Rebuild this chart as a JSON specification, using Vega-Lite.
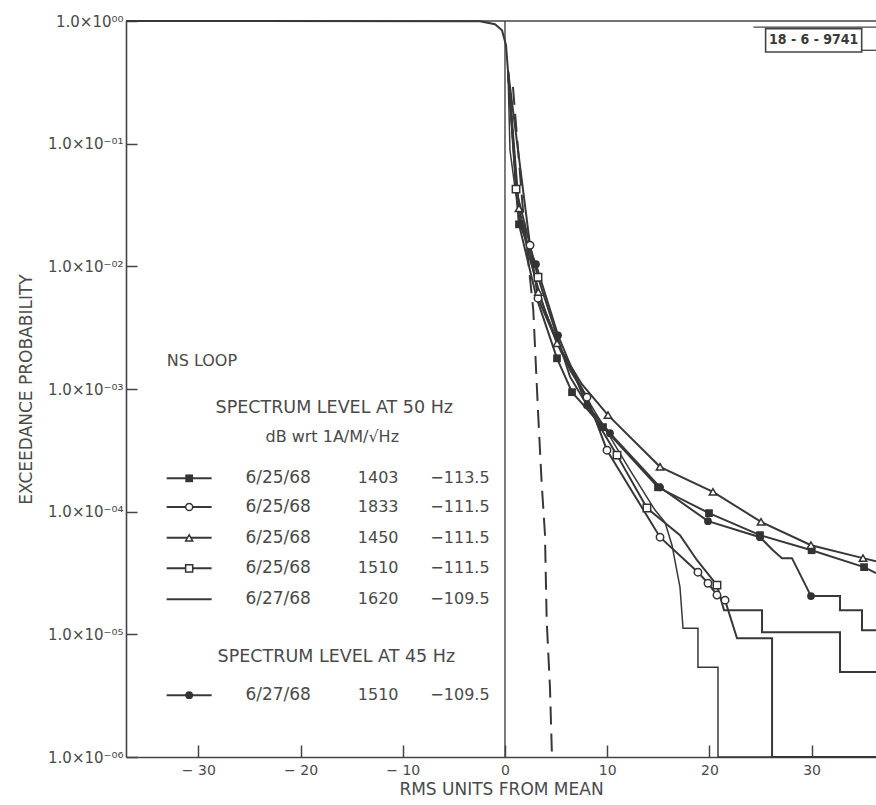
{
  "$schema": "https://vega.github.io/schema/vega-lite/v6.json",
  "width": 750,
  "height": 736,
  "autosize": {"type": "none"},
  "padding": {"left": 126, "top": 21, "right": 0, "bottom": 48},
  "background": "white",
  "config": {
    "view": {"stroke": null},
    "font": "DejaVu Sans",
    "text": {"font": "DejaVu Sans", "color": "#4a4a4a"}
  },
  "datasets": {
    "curves": [
      {"s": "6/25/68 1403", "x": 0.29, "p": 0.396, "o": 0, "mk": false},
      {"s": "6/25/68 1403", "x": 1.37, "p": 0.022, "o": 1, "mk": true},
      {"s": "6/25/68 1403", "x": 3.1, "p": 0.0055, "o": 2, "mk": false},
      {"s": "6/25/68 1403", "x": 5.09, "p": 0.00178, "o": 3, "mk": true},
      {"s": "6/25/68 1403", "x": 6.56, "p": 0.000942, "o": 4, "mk": true},
      {"s": "6/25/68 1403", "x": 9.59, "p": 0.000489, "o": 5, "mk": true},
      {"s": "6/25/68 1403", "x": 14.97, "p": 0.000158, "o": 6, "mk": true},
      {"s": "6/25/68 1403", "x": 19.96, "p": 0.0000973, "o": 7, "mk": true},
      {"s": "6/25/68 1403", "x": 24.95, "p": 0.0000644, "o": 8, "mk": true},
      {"s": "6/25/68 1403", "x": 30.0, "p": 0.0000485, "o": 9, "mk": true},
      {"s": "6/25/68 1403", "x": 35.13, "p": 0.0000353, "o": 10, "mk": true},
      {"s": "6/25/68 1403", "x": 36.3, "p": 0.0000316, "o": 11, "mk": false},

      {"s": "6/25/68 1833", "x": 0.29, "p": 0.396, "o": 0, "mk": false},
      {"s": "6/25/68 1833", "x": 2.45, "p": 0.01486, "o": 1, "mk": true},
      {"s": "6/25/68 1833", "x": 3.23, "p": 0.0055, "o": 2, "mk": true},
      {"s": "6/25/68 1833", "x": 5.5, "p": 0.002, "o": 3, "mk": false},
      {"s": "6/25/68 1833", "x": 8.02, "p": 0.000857, "o": 4, "mk": true},
      {"s": "6/25/68 1833", "x": 9.98, "p": 0.000317, "o": 5, "mk": true},
      {"s": "6/25/68 1833", "x": 15.17, "p": 0.0000619, "o": 6, "mk": true},
      {"s": "6/25/68 1833", "x": 18.88, "p": 0.0000321, "o": 7, "mk": true},
      {"s": "6/25/68 1833", "x": 19.86, "p": 0.0000261, "o": 8, "mk": true},
      {"s": "6/25/68 1833", "x": 20.74, "p": 0.0000209, "o": 9, "mk": true},
      {"s": "6/25/68 1833", "x": 21.53, "p": 0.000019, "o": 10, "mk": true},
      {"s": "6/25/68 1833", "x": 22.7, "p": 0.00000929, "o": 11, "mk": false},
      {"s": "6/25/68 1833", "x": 26.13, "p": 0.00000929, "o": 12, "mk": false},
      {"s": "6/25/68 1833", "x": 26.13, "p": 0.000001, "o": 13, "mk": false},
      {"s": "6/25/68 1833", "x": 36.3, "p": 0.000001, "o": 14, "mk": false},

      {"s": "6/25/68 1450", "x": 0.29, "p": 0.396, "o": 0, "mk": false},
      {"s": "6/25/68 1450", "x": 1.37, "p": 0.0297, "o": 1, "mk": true},
      {"s": "6/25/68 1450", "x": 3.26, "p": 0.00618, "o": 2, "mk": true},
      {"s": "6/25/68 1450", "x": 5.09, "p": 0.00236, "o": 3, "mk": true},
      {"s": "6/25/68 1450", "x": 7.5, "p": 0.0011, "o": 4, "mk": false},
      {"s": "6/25/68 1450", "x": 10.08, "p": 0.000612, "o": 5, "mk": true},
      {"s": "6/25/68 1450", "x": 15.17, "p": 0.000232, "o": 6, "mk": true},
      {"s": "6/25/68 1450", "x": 20.35, "p": 0.000145, "o": 7, "mk": true},
      {"s": "6/25/68 1450", "x": 25.05, "p": 0.0000826, "o": 8, "mk": true},
      {"s": "6/25/68 1450", "x": 29.94, "p": 0.0000533, "o": 9, "mk": true},
      {"s": "6/25/68 1450", "x": 35.03, "p": 0.0000418, "o": 10, "mk": true},
      {"s": "6/25/68 1450", "x": 36.3, "p": 0.0000394, "o": 11, "mk": false},

      {"s": "6/25/68 1510", "x": 0.29, "p": 0.396, "o": 0, "mk": false},
      {"s": "6/25/68 1510", "x": 1.08, "p": 0.0426, "o": 1, "mk": true},
      {"s": "6/25/68 1510", "x": 3.23, "p": 0.00815, "o": 2, "mk": true},
      {"s": "6/25/68 1510", "x": 6.36, "p": 0.00126, "o": 3, "mk": false},
      {"s": "6/25/68 1510", "x": 10.96, "p": 0.000289, "o": 4, "mk": true},
      {"s": "6/25/68 1510", "x": 13.89, "p": 0.000107, "o": 5, "mk": true},
      {"s": "6/25/68 1510", "x": 17.12, "p": 0.0000644, "o": 6, "mk": false},
      {"s": "6/25/68 1510", "x": 18.79, "p": 0.0000402, "o": 7, "mk": false},
      {"s": "6/25/68 1510", "x": 20.74, "p": 0.0000252, "o": 8, "mk": true},
      {"s": "6/25/68 1510", "x": 21.43, "p": 0.0000157, "o": 9, "mk": false},
      {"s": "6/25/68 1510", "x": 25.15, "p": 0.0000157, "o": 10, "mk": false},
      {"s": "6/25/68 1510", "x": 25.15, "p": 0.0000104, "o": 11, "mk": false},
      {"s": "6/25/68 1510", "x": 32.78, "p": 0.0000104, "o": 12, "mk": false},
      {"s": "6/25/68 1510", "x": 32.78, "p": 0.00000492, "o": 13, "mk": false},
      {"s": "6/25/68 1510", "x": 36.3, "p": 0.00000492, "o": 14, "mk": false},

      {"s": "6/27/68 1620", "x": 0.29, "p": 0.396, "o": 0, "mk": false},
      {"s": "6/27/68 1620", "x": 0.49, "p": 0.0883, "o": 1, "mk": false},
      {"s": "6/27/68 1620", "x": 1.27, "p": 0.0286, "o": 2, "mk": false},
      {"s": "6/27/68 1620", "x": 2.45, "p": 0.0112, "o": 3, "mk": false},
      {"s": "6/27/68 1620", "x": 3.91, "p": 0.00439, "o": 4, "mk": false},
      {"s": "6/27/68 1620", "x": 6.36, "p": 0.00142, "o": 5, "mk": false},
      {"s": "6/27/68 1620", "x": 9.3, "p": 0.000557, "o": 6, "mk": false},
      {"s": "6/27/68 1620", "x": 12.23, "p": 0.000218, "o": 7, "mk": false},
      {"s": "6/27/68 1620", "x": 14.68, "p": 0.000103, "o": 8, "mk": false},
      {"s": "6/27/68 1620", "x": 15.66, "p": 0.000082, "o": 9, "mk": false},
      {"s": "6/27/68 1620", "x": 16.34, "p": 0.0000533, "o": 10, "mk": false},
      {"s": "6/27/68 1620", "x": 17.12, "p": 0.0000243, "o": 11, "mk": false},
      {"s": "6/27/68 1620", "x": 17.42, "p": 0.0000112, "o": 12, "mk": false},
      {"s": "6/27/68 1620", "x": 18.88, "p": 0.0000112, "o": 13, "mk": false},
      {"s": "6/27/68 1620", "x": 18.88, "p": 0.0000054, "o": 14, "mk": false},
      {"s": "6/27/68 1620", "x": 20.84, "p": 0.0000054, "o": 15, "mk": false},
      {"s": "6/27/68 1620", "x": 20.84, "p": 0.000001, "o": 16, "mk": false},
      {"s": "6/27/68 1620", "x": 36.3, "p": 0.000001, "o": 17, "mk": false},

      {"s": "6/27/68 1510 (45 Hz)", "x": 0.29, "p": 0.396, "o": 0, "mk": false},
      {"s": "6/27/68 1510 (45 Hz)", "x": 1.37, "p": 0.0229, "o": 1, "mk": false},
      {"s": "6/27/68 1510 (45 Hz)", "x": 3.03, "p": 0.0104, "o": 2, "mk": true},
      {"s": "6/27/68 1510 (45 Hz)", "x": 5.19, "p": 0.00274, "o": 3, "mk": true},
      {"s": "6/27/68 1510 (45 Hz)", "x": 8.02, "p": 0.000738, "o": 4, "mk": true},
      {"s": "6/27/68 1510 (45 Hz)", "x": 10.27, "p": 0.000436, "o": 5, "mk": true},
      {"s": "6/27/68 1510 (45 Hz)", "x": 15.17, "p": 0.000158, "o": 6, "mk": true},
      {"s": "6/27/68 1510 (45 Hz)", "x": 19.86, "p": 0.0000837, "o": 7, "mk": true},
      {"s": "6/27/68 1510 (45 Hz)", "x": 24.95, "p": 0.0000619, "o": 8, "mk": true},
      {"s": "6/27/68 1510 (45 Hz)", "x": 26.22, "p": 0.0000485, "o": 9, "mk": false},
      {"s": "6/27/68 1510 (45 Hz)", "x": 27.1, "p": 0.0000418, "o": 10, "mk": false},
      {"s": "6/27/68 1510 (45 Hz)", "x": 28.08, "p": 0.0000418, "o": 11, "mk": false},
      {"s": "6/27/68 1510 (45 Hz)", "x": 29.94, "p": 0.0000205, "o": 12, "mk": true},
      {"s": "6/27/68 1510 (45 Hz)", "x": 32.78, "p": 0.0000205, "o": 13, "mk": false},
      {"s": "6/27/68 1510 (45 Hz)", "x": 32.78, "p": 0.0000157, "o": 14, "mk": false},
      {"s": "6/27/68 1510 (45 Hz)", "x": 34.93, "p": 0.0000157, "o": 15, "mk": false},
      {"s": "6/27/68 1510 (45 Hz)", "x": 34.93, "p": 0.0000108, "o": 16, "mk": false},
      {"s": "6/27/68 1510 (45 Hz)", "x": 36.3, "p": 0.0000108, "o": 17, "mk": false}
    ],
    "envelope": [
      {"x": -37.08, "p": 1.0},
      {"x": -2.45, "p": 0.9945},
      {"x": -0.98, "p": 0.94},
      {"x": -0.29, "p": 0.84},
      {"x": 0.1, "p": 0.634},
      {"x": 0.29, "p": 0.396}
    ],
    "gauss": [
      {"x": 0.78, "p": 0.29},
      {"x": 1.76, "p": 0.0287},
      {"x": 2.77, "p": 0.0044},
      {"x": 3.26, "p": 0.00059},
      {"x": 3.59, "p": 0.00017},
      {"x": 3.91, "p": 0.000066},
      {"x": 4.08, "p": 0.000013},
      {"x": 4.4, "p": 0.0000037},
      {"x": 4.6, "p": 0.000001}
    ],
    "legend": [
      {"s": "6/25/68 1403", "date": "6/25/68", "time": "1403", "level": "−113.5", "p": 0.000187},
      {"s": "6/25/68 1833", "date": "6/25/68", "time": "1833", "level": "−111.5", "p": 0.000109},
      {"s": "6/25/68 1450", "date": "6/25/68", "time": "1450", "level": "−111.5", "p": 0.0000612},
      {"s": "6/25/68 1510", "date": "6/25/68", "time": "1510", "level": "−111.5", "p": 0.0000345},
      {"s": "6/27/68 1620", "date": "6/27/68", "time": "1620", "level": "−109.5", "p": 0.0000193},
      {"s": "6/27/68 1510 (45 Hz)", "date": "6/27/68", "time": "1510", "level": "−109.5", "p": 0.00000319}
    ]
  },
  "layer": [
    {
      "data": {"values": [{}]},
      "mark": {"type": "rule", "color": "#444", "strokeWidth": 1.6},
      "encoding": {
        "y": {
          "datum": 1,
          "type": "quantitative",
          "scale": {"type": "log", "domain": [0.000001, 1], "nice": false},
          "axis": {
            "values": [0.000001, 0.00001, 0.0001, 0.001, 0.01, 0.1, 1],
            "labelExpr": "'1.0×10' + (datum.value >= 0.99 ? '⁰⁰' : '⁻⁰' + ['⁰','¹','²','³','⁴','⁵','⁶'][round(-log(datum.value)/LN10)])",
            "title": "EXCEEDANCE PROBABILITY",
            "titleFont": "DejaVu Sans",
            "titleFontSize": 17,
            "titleFontWeight": "normal",
            "titleColor": "#4a4a4a",
            "titlePadding": 12,
            "labelFont": "DejaVu Sans",
            "labelFontSize": 15,
            "labelColor": "#4a4a4a",
            "labelPadding": 14,
            "tickSize": -11,
            "tickColor": "#444",
            "tickWidth": 1.5,
            "domainColor": "#444",
            "domainWidth": 1.6,
            "grid": false
          }
        }
      }
    },
    {
      "data": {"values": [{}]},
      "mark": {"type": "rule", "color": "#444", "strokeWidth": 1.4},
      "encoding": {
        "x": {
          "datum": 0,
          "type": "quantitative",
          "scale": {"domain": [-37.08, 36.3], "nice": false, "zero": false},
          "axis": {
            "values": [-30, -20, -10, 0, 10, 20, 30],
            "labelExpr": "datum.value < 0 ? '− ' + abs(datum.value) : datum.label",
            "title": "RMS UNITS FROM MEAN",
            "titleFont": "DejaVu Sans",
            "titleFontSize": 17,
            "titleFontWeight": "normal",
            "titleColor": "#4a4a4a",
            "titlePadding": 4,
            "labelFont": "DejaVu Sans",
            "labelFontSize": 14,
            "labelColor": "#4a4a4a",
            "labelPadding": 18,
            "tickSize": -12,
            "tickColor": "#444",
            "tickWidth": 1.5,
            "domainColor": "#444",
            "domainWidth": 1.6,
            "grid": false
          }
        }
      }
    },
    {
      "data": {"name": "envelope"},
      "mark": {"type": "line", "color": "#383838", "strokeWidth": 2},
      "encoding": {
        "x": {"field": "x", "type": "quantitative"},
        "y": {"field": "p", "type": "quantitative"}
      }
    },
    {
      "data": {"name": "gauss"},
      "mark": {"type": "line", "color": "#383838", "strokeWidth": 2, "strokeDash": [18, 9]},
      "encoding": {
        "x": {"field": "x", "type": "quantitative"},
        "y": {"field": "p", "type": "quantitative"}
      }
    },
    {
      "data": {"name": "curves"},
      "transform": [{"filter": "datum.s !== '6/27/68 1620'"}],
      "mark": {"type": "line", "color": "#383838", "strokeWidth": 2},
      "encoding": {
        "x": {"field": "x", "type": "quantitative"},
        "y": {"field": "p", "type": "quantitative"},
        "detail": {"field": "s", "type": "nominal"},
        "order": {"field": "o", "type": "quantitative"}
      }
    },
    {
      "data": {"name": "curves"},
      "transform": [{"filter": "datum.s === '6/27/68 1620'"}],
      "mark": {"type": "line", "color": "#383838", "strokeWidth": 1.5},
      "encoding": {
        "x": {"field": "x", "type": "quantitative"},
        "y": {"field": "p", "type": "quantitative"},
        "order": {"field": "o", "type": "quantitative"}
      }
    },
    {
      "data": {"name": "curves"},
      "transform": [{"filter": "datum.mk && (datum.s === '6/25/68 1403' || datum.s === '6/27/68 1510 (45 Hz)')"}],
      "mark": {"type": "point", "filled": true, "color": "#333", "size": 60, "opacity": 1},
      "encoding": {
        "x": {"field": "x", "type": "quantitative"},
        "y": {"field": "p", "type": "quantitative"},
        "shape": {
          "field": "s", "type": "nominal", "legend": null,
          "scale": {
            "domain": ["6/25/68 1403", "6/25/68 1833", "6/25/68 1450", "6/25/68 1510", "6/27/68 1620", "6/27/68 1510 (45 Hz)"],
            "range": ["square", "circle", "triangle-up", "square", "circle", "circle"]
          }
        }
      }
    },
    {
      "data": {"name": "curves"},
      "transform": [{"filter": "datum.mk && (datum.s === '6/25/68 1833' || datum.s === '6/25/68 1450' || datum.s === '6/25/68 1510')"}],
      "mark": {"type": "point", "filled": true, "fill": "white", "stroke": "#333", "strokeWidth": 1.5, "size": 55, "opacity": 1},
      "encoding": {
        "x": {"field": "x", "type": "quantitative"},
        "y": {"field": "p", "type": "quantitative"},
        "shape": {"field": "s", "type": "nominal", "legend": null}
      }
    },
    {
      "data": {"name": "legend"},
      "mark": {"type": "rule", "color": "#383838", "strokeWidth": 2},
      "encoding": {
        "x": {"datum": -33.1},
        "x2": {"datum": -28.7},
        "y": {"field": "p", "type": "quantitative"}
      }
    },
    {
      "data": {"name": "legend"},
      "transform": [{"filter": "datum.s === '6/25/68 1403' || datum.s === '6/27/68 1510 (45 Hz)'"}],
      "mark": {"type": "point", "filled": true, "color": "#333", "size": 60, "opacity": 1},
      "encoding": {
        "x": {"datum": -30.9},
        "y": {"field": "p", "type": "quantitative"},
        "shape": {"field": "s", "type": "nominal", "legend": null}
      }
    },
    {
      "data": {"name": "legend"},
      "transform": [{"filter": "datum.s === '6/25/68 1833' || datum.s === '6/25/68 1450' || datum.s === '6/25/68 1510'"}],
      "mark": {"type": "point", "filled": true, "fill": "white", "stroke": "#333", "strokeWidth": 1.5, "size": 50, "opacity": 1},
      "encoding": {
        "x": {"datum": -30.9},
        "y": {"field": "p", "type": "quantitative"},
        "shape": {"field": "s", "type": "nominal", "legend": null}
      }
    },
    {
      "data": {"name": "legend"},
      "mark": {"type": "text", "align": "left", "baseline": "middle", "fontSize": 17},
      "encoding": {
        "x": {"datum": -25.4},
        "y": {"field": "p", "type": "quantitative"},
        "text": {"field": "date"}
      }
    },
    {
      "data": {"name": "legend"},
      "mark": {"type": "text", "align": "left", "baseline": "middle", "fontSize": 16},
      "encoding": {
        "x": {"datum": -14.4},
        "y": {"field": "p", "type": "quantitative"},
        "text": {"field": "time"}
      }
    },
    {
      "data": {"name": "legend"},
      "mark": {"type": "text", "align": "left", "baseline": "middle", "fontSize": 16},
      "encoding": {
        "x": {"datum": -7.3},
        "y": {"field": "p", "type": "quantitative"},
        "text": {"field": "level"}
      }
    },
    {
      "data": {"values": [{}]},
      "mark": {"type": "text", "align": "left", "baseline": "middle", "fontSize": 16},
      "encoding": {"x": {"datum": -33.1}, "y": {"datum": 0.00169}, "text": {"value": "NS LOOP"}}
    },
    {
      "data": {"values": [{}]},
      "mark": {"type": "text", "align": "center", "baseline": "middle", "fontSize": 17.5},
      "encoding": {"x": {"datum": -16.7}, "y": {"datum": 0.0007}, "text": {"value": "SPECTRUM LEVEL AT 50 Hz"}}
    },
    {
      "data": {"values": [{}]},
      "mark": {"type": "text", "align": "center", "baseline": "middle", "fontSize": 16},
      "encoding": {"x": {"datum": -16.9}, "y": {"datum": 0.000407}, "text": {"value": "dB wrt 1A/M/√Hz"}}
    },
    {
      "data": {"values": [{}]},
      "mark": {"type": "text", "align": "center", "baseline": "middle", "fontSize": 17.5},
      "encoding": {"x": {"datum": -16.5}, "y": {"datum": 0.00000656}, "text": {"value": "SPECTRUM LEVEL AT 45 Hz"}}
    },
    {
      "data": {"values": [{}]},
      "mark": {"type": "rule", "color": "#444", "strokeWidth": 1.3},
      "encoding": {"x": {"datum": 24.3}, "x2": {"datum": 36.3}, "y": {"datum": 0.893}}
    },
    {
      "data": {"values": [{}]},
      "mark": {"type": "rect", "fill": "white", "stroke": "#444", "strokeWidth": 1.6},
      "encoding": {"x": {"datum": 25.5}, "x2": {"datum": 34.9}, "y": {"datum": 0.559}, "y2": {"datum": 0.867}}
    },
    {
      "data": {"values": [{}]},
      "mark": {"type": "rule", "color": "#444", "strokeWidth": 1.3},
      "encoding": {"x": {"datum": 34.9}, "x2": {"datum": 36.3}, "y": {"datum": 0.577}}
    },
    {
      "data": {"values": [{}]},
      "mark": {"type": "text", "align": "center", "baseline": "middle", "fontSize": 14, "fontWeight": "bold", "font": "DejaVu Sans Condensed", "color": "#3a3a3a"},
      "encoding": {"x": {"datum": 30.2}, "y": {"datum": 0.697}, "text": {"value": "18 - 6 - 9741"}}
    }
  ]
}
